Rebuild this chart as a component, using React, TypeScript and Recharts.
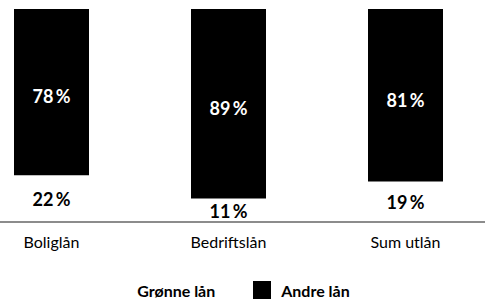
import React from "react";
import { BarChart, Bar, XAxis, YAxis, LabelList, Legend } from "recharts";

const categories = ["Boliglån", "Bedriftslån", "Sum utlån"];
const greenLoans = [22, 11, 19];
const otherLoans = [78, 89, 81];
const seriesNames = ["Grønne lån", "Andre lån"];
const seriesColors = ["#ffffff", "#000000"];

const data = categories.map((c, i) => ({
  name: c,
  green: greenLoans[i],
  other: otherLoans[i],
}));

const FONT = "Lato, 'Open Sans', sans-serif";
const fmt = (v: any) => `${v}\u2009%`;

const LegendContent = () => (
  <div
    style={{
      display: "flex",
      justifyContent: "center",
      alignItems: "center",
      fontFamily: FONT,
      fontWeight: 700,
      fontSize: 16,
      color: "#000",
      height: 20,
    }}
  >
    {seriesNames.map((n, i) => (
      <div key={n} style={{ display: "flex", alignItems: "center", marginRight: i === 0 ? 38 : 0 }}>
        <div
          style={{
            width: 18,
            height: 18,
            background: seriesColors[i],
            marginRight: 10,
          }}
        />
        <span>{n}</span>
      </div>
    ))}
  </div>
);

export default function App() {
  return (
    <div style={{ position: "absolute", left: -37, top: 0, width: 531, height: 299, background: "#fff" }}>
      <BarChart
        width={531}
        height={299}
        data={data}
        margin={{ top: 9, right: 0, bottom: 27, left: 0 }}
        barSize={75}
      >
        <XAxis
          dataKey="name"
          axisLine={{ stroke: "#666", strokeWidth: 1.5 }}
          tickLine={false}
          tickMargin={9}
          height={30}
          tick={{ fontFamily: FONT, fontSize: 16, fill: "#000" }}
          interval={0}
        />
        <YAxis hide domain={[0, 100]} />
        <Legend
          content={<LegendContent />}
          wrapperStyle={{ top: 280, bottom: "auto", left: 1, width: 531, height: 20 }}
        />
        <Bar dataKey="green" stackId="a" fill={seriesColors[0]} isAnimationActive={false} name={seriesNames[0]}>
          <LabelList
            dataKey="green"
            position="center"
            formatter={fmt}
            dy={1}
            style={{ fontFamily: FONT, fontSize: 18, fontWeight: 700, fill: "#000" }}
          />
        </Bar>
        <Bar dataKey="other" stackId="a" fill={seriesColors[1]} isAnimationActive={false} name={seriesNames[1]}>
          <LabelList
            dataKey="other"
            position="center"
            offset={0}
            formatter={fmt}
            dy={5}
            style={{ fontFamily: FONT, fontSize: 18, fontWeight: 700, fill: "#fff" }}
          />
        </Bar>
      </BarChart>
    </div>
  );
}
